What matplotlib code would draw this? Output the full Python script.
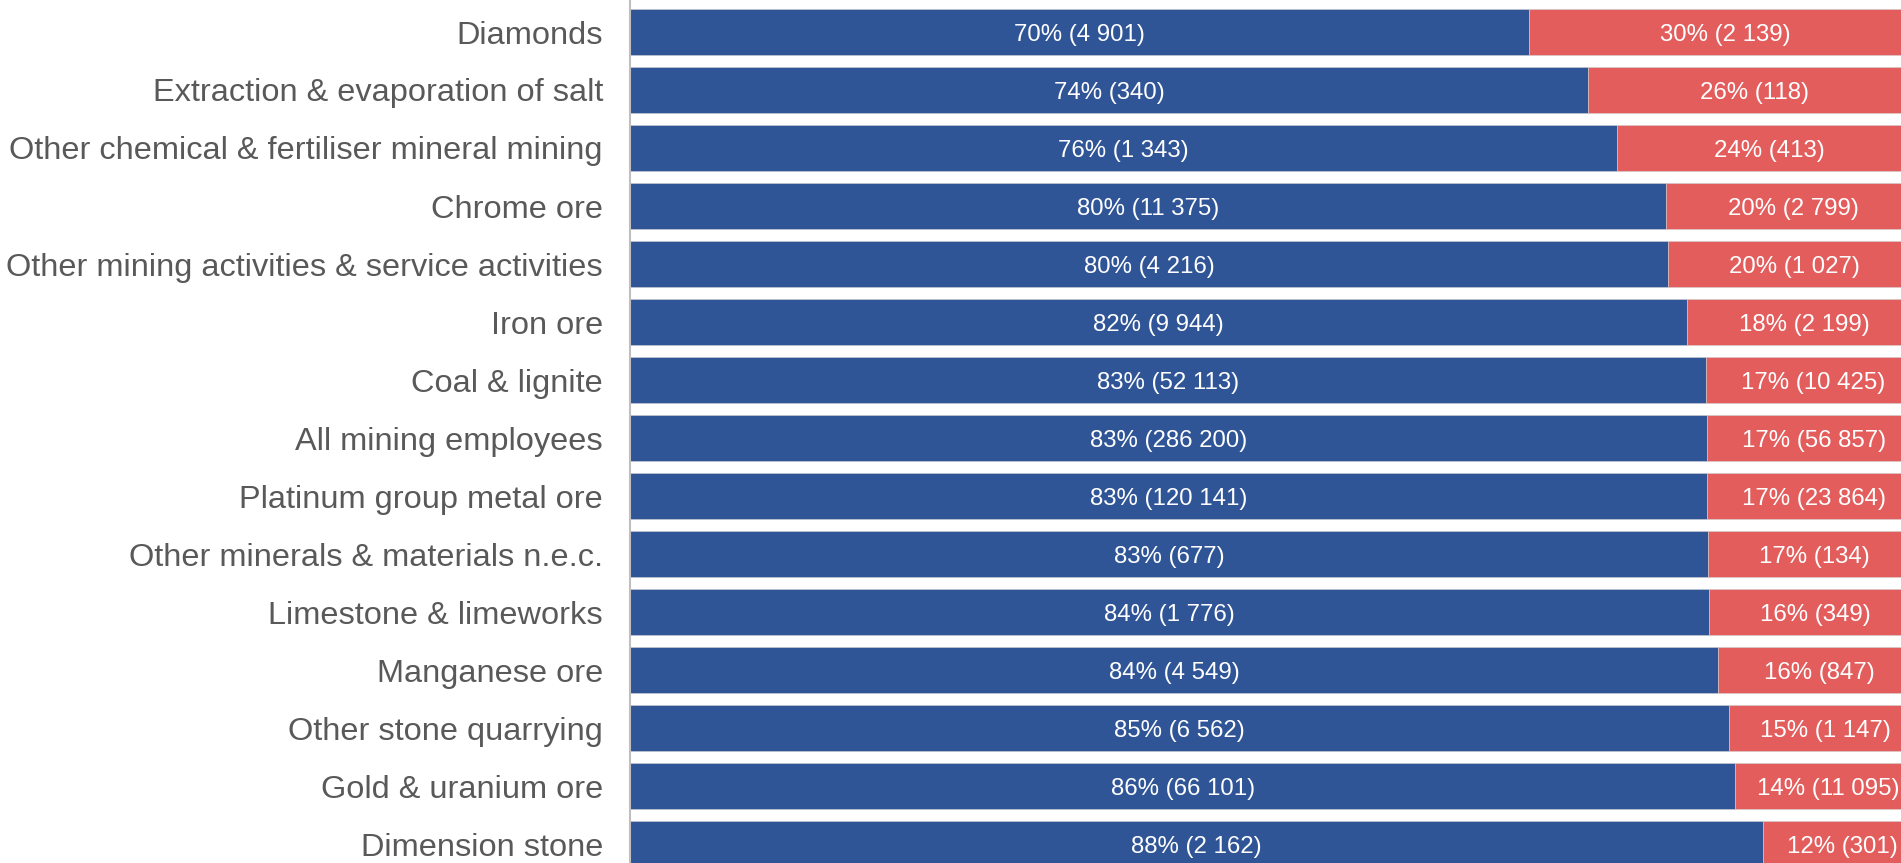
import numpy as np
import matplotlib
matplotlib.use("Agg")
import matplotlib.pyplot as plt

categories = [
    "Diamonds",
    "Extraction & evaporation of salt",
    "Other chemical & fertiliser mineral mining",
    "Chrome ore",
    "Other mining activities & service activities",
    "Iron ore",
    "Coal & lignite",
    "All mining employees",
    "Platinum group metal ore",
    "Other minerals & materials n.e.c.",
    "Limestone & limeworks",
    "Manganese ore",
    "Other stone quarrying",
    "Gold & uranium ore",
    "Dimension stone",
]
male = [4901, 340, 1343, 11375, 4216, 9944, 52113, 286200, 120141, 677,
        1776, 4549, 6562, 66101, 2162]
female = [2139, 118, 413, 2799, 1027, 2199, 10425, 56857, 23864, 134,
          349, 847, 1147, 11095, 301]

BLUE = "#2F5597"
RED = "#E35D5D"
GREY_TXT = "#595959"

plt.rcParams["font.family"] = ["Liberation Sans", "DejaVu Sans"]


def fmt(n):
    return f"{n:,}".replace(",", " ")


male = np.array(male, dtype=float)
female = np.array(female, dtype=float)
total = male + female
m_share = male / total
f_share = female / total

W, H = 1901, 863
fig = plt.figure(figsize=(W / 100, H / 100), dpi=100)
# the original is a crop: bars run a little past the right edge
ax = fig.add_axes([630 / W, 0, 1291 / W, 1])

y = np.arange(len(categories))
ax.barh(y, m_share, height=0.776, color=BLUE, edgecolor="#d0d0d0", linewidth=0.4)
ax.barh(y, f_share, left=m_share, height=0.776, color=RED, edgecolor="#d0d0d0", linewidth=0.4)

for i in range(len(categories)):
    mp = int(round(m_share[i] * 100))
    fp = int(round(f_share[i] * 100))
    ax.text(m_share[i] / 2, i, f"{mp}% ({fmt(int(male[i]))})", color="white",
            ha="center", va="center_baseline", fontsize=17.3)
    ax.text(m_share[i] + f_share[i] / 2, i, f"{fp}% ({fmt(int(female[i]))})", color="white",
            ha="center", va="center_baseline", fontsize=17.3)

ax.set_xlim(0, 1)
ax.set_ylim((H - 32) / 58, -32 / 58)
ax.set_yticks(y)
ax.set_yticklabels(categories, fontsize=23.4, color=GREY_TXT)
ax.tick_params(axis="y", length=0, pad=19.5)
ax.set_xticks([])
for s in ["top", "right", "bottom"]:
    ax.spines[s].set_visible(False)
ax.spines["left"].set_color("#BFBFBF")
ax.spines["left"].set_linewidth(1.5)

fig.savefig("out.png", dpi=100)
